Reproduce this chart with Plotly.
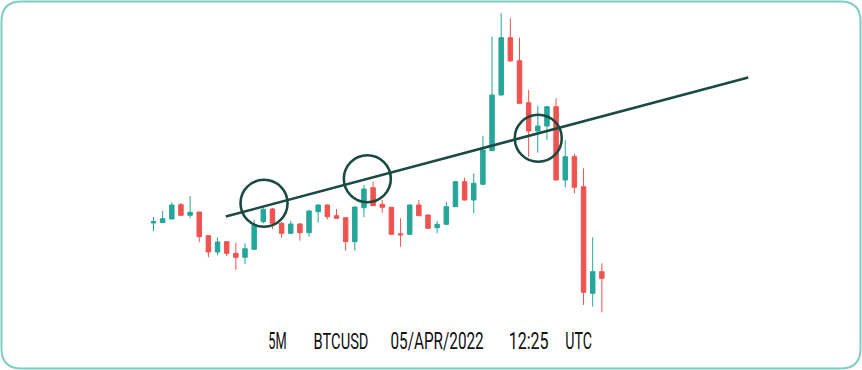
import plotly.graph_objects as go

# ---- data (arbitrary price units) ----
opens  = [177, 177.3, 181, 195.3, 184.7, 188, 164.3, 148, 158.3, 146.7,
          142.7, 150.7, 178.3, 191, 176.7, 166.7, 176, 167.3, 188.3, 195,
          184.3, 182.3, 158.3, 192.3, 212.3, 195.7, 192.7, 166.2, 165.7, 195,
          185, 172.3, 175.7, 193.3, 218.3, 200, 215.7, 249.3, 305, 362.3,
          339.3, 297.3, 269, 274, 293.3, 220, 243.3, 213.3, 106.7, 128.3]
highs  = [183, 189.3, 197.7, 197, 204, 188, 164.3, 162.7, 159, 157.3,
          156.7, 180, 194, 192, 178, 179.3, 177, 190, 195.5, 195.5,
          191, 183, 193.5, 215, 218.3, 200, 193, 181.7, 195.5, 200,
          185.5, 179, 198.3, 219, 222.3, 226.7, 264, 363.3, 386.7, 381.7,
          362.3, 310, 294.3, 293.8, 301.7, 260, 246, 231.7, 162.7, 136.7]
lows   = [169, 177, 181, 184.7, 182, 157.7, 142.7, 144.7, 144, 130,
          136, 150, 176.7, 171, 162.3, 166, 159.3, 163.3, 177.3, 180.7,
          181.7, 149.3, 149.3, 182.7, 194.3, 187.3, 165.7, 153.3, 165.2, 184.3,
          171.2, 166.7, 175.2, 193, 199.5, 186.7, 215.2, 249, 304.5, 338.5,
          296.2, 243.3, 247.3, 260, 219.5, 212.7, 206.7, 95, 93.3, 87.7]
closes = [178.5, 181.3, 195, 184.7, 187.7, 163.3, 148, 158, 146.7, 142.7,
          151.3, 175, 190.7, 176.7, 166.7, 176, 167.3, 189, 195, 183.3,
          181.7, 158.3, 193, 211, 194.3, 192.7, 165.7, 165.2, 195, 184.3,
          171.7, 175.7, 193.3, 218.3, 200, 216.7, 250, 305, 362.3, 339,
          296.7, 269, 274, 293.3, 220, 243.3, 212.7, 107.7, 128.3, 121.7]
candle_idx = list(range(len(opens)))

# trend line (candle index, price)
trend_x = [7.9, 65.0]
trend_y = [183.5, 322.5]

# highlighted touches (candle index, price)
circle_x = [12.08, 23.37, 42.05]
circle_y = [196.7, 221.3, 261.7]

caption_words = ["5M", "BTCUSD", "05/APR/2022", "12:25", "UTC"]
caption_px = [277.5, 340.8, 436.7, 528.3, 578.3]
caption_w = [18.4, 55.0, 93.3, 40.0, 26.7]   # rendered word widths (px)

# ---- styling / geometry ----
W, H = 862, 370
X_RANGE = [-16.776, 77.432]
Y_RANGE = [30, 400]
GREEN, RED = "#26a69a", "#ef5350"
DARK = "#1a4a41"
BORDER = "#7fcdc4"

px_per_x = W / (X_RANGE[1] - X_RANGE[0])
px_per_y = H / (Y_RANGE[1] - Y_RANGE[0])
R_PX = 23.5

fig = go.Figure()
fig.add_trace(go.Candlestick(
    x=candle_idx, open=opens, high=highs, low=lows, close=closes,
    increasing=dict(line=dict(color=GREEN, width=1), fillcolor=GREEN),
    decreasing=dict(line=dict(color=RED, width=1), fillcolor=RED),
    whiskerwidth=0, hoverinfo="skip", showlegend=False,
))
fig.add_trace(go.Scatter(
    x=trend_x, y=trend_y, mode="lines",
    line=dict(color=DARK, width=2.5), hoverinfo="skip", showlegend=False,
))

shapes = []
for cx, cy in zip(circle_x, circle_y):
    rx = R_PX / px_per_x
    ry = R_PX / px_per_y
    shapes.append(dict(type="circle", xref="x", yref="y",
                       x0=cx - rx, x1=cx + rx, y0=cy - ry, y1=cy + ry,
                       line=dict(color=DARK, width=2.6)))

# rounded border in paper coords
inset, rad = 1.5, 20
def P(px, py):
    return f"{px / W:.5f},{1 - py / H:.5f}"
x0b, y0b, x1b, y1b = inset, inset, W - inset, H - inset
path = (f"M {P(x0b + rad, y0b)} L {P(x1b - rad, y0b)} Q {P(x1b, y0b)} {P(x1b, y0b + rad)} "
        f"L {P(x1b, y1b - rad)} Q {P(x1b, y1b)} {P(x1b - rad, y1b)} "
        f"L {P(x0b + rad, y1b)} Q {P(x0b, y1b)} {P(x0b, y1b - rad)} "
        f"L {P(x0b, y0b + rad)} Q {P(x0b, y0b)} {P(x0b + rad, y0b)} Z")
shapes.append(dict(type="path", xref="paper", yref="paper", path=path,
                   line=dict(color=BORDER, width=2)))

annotations = []
for word, px in zip(caption_words, caption_px):
    annotations.append(dict(
        text=word, xref="paper", yref="paper", x=px / W, y=1 - 341 / H,
        xanchor="center", yanchor="middle", showarrow=False,
        font=dict(family="Roboto, sans-serif", size=23, color="#111111"),
    ))

fig.update_layout(
    width=W, height=H, margin=dict(l=0, r=0, t=0, b=0),
    paper_bgcolor="white", plot_bgcolor="white",
    xaxis=dict(range=X_RANGE, visible=False, rangeslider=dict(visible=False), fixedrange=True),
    yaxis=dict(range=Y_RANGE, visible=False, fixedrange=True),
    shapes=shapes, annotations=annotations, showlegend=False,
)

widths_js = "[" + ",".join(str(w) for w in caption_w) + "]"
post = """
document.body.style.margin = '0';
document.body.style.padding = '0';
var targetW = %s;
var texts = document.querySelectorAll('.annotation-text');
texts.forEach(function(t, i) {
  var b = t.getBBox();
  var cx = b.x + b.width / 2;
  var s = targetW[i] / b.width;
  t.setAttribute('transform', 'translate(' + cx + ',0) scale(' + s + ',1) translate(' + (-cx) + ',0)');
});
""" % widths_js
fig.write_html("out.html", post_script=post, config={"displayModeBar": False})
